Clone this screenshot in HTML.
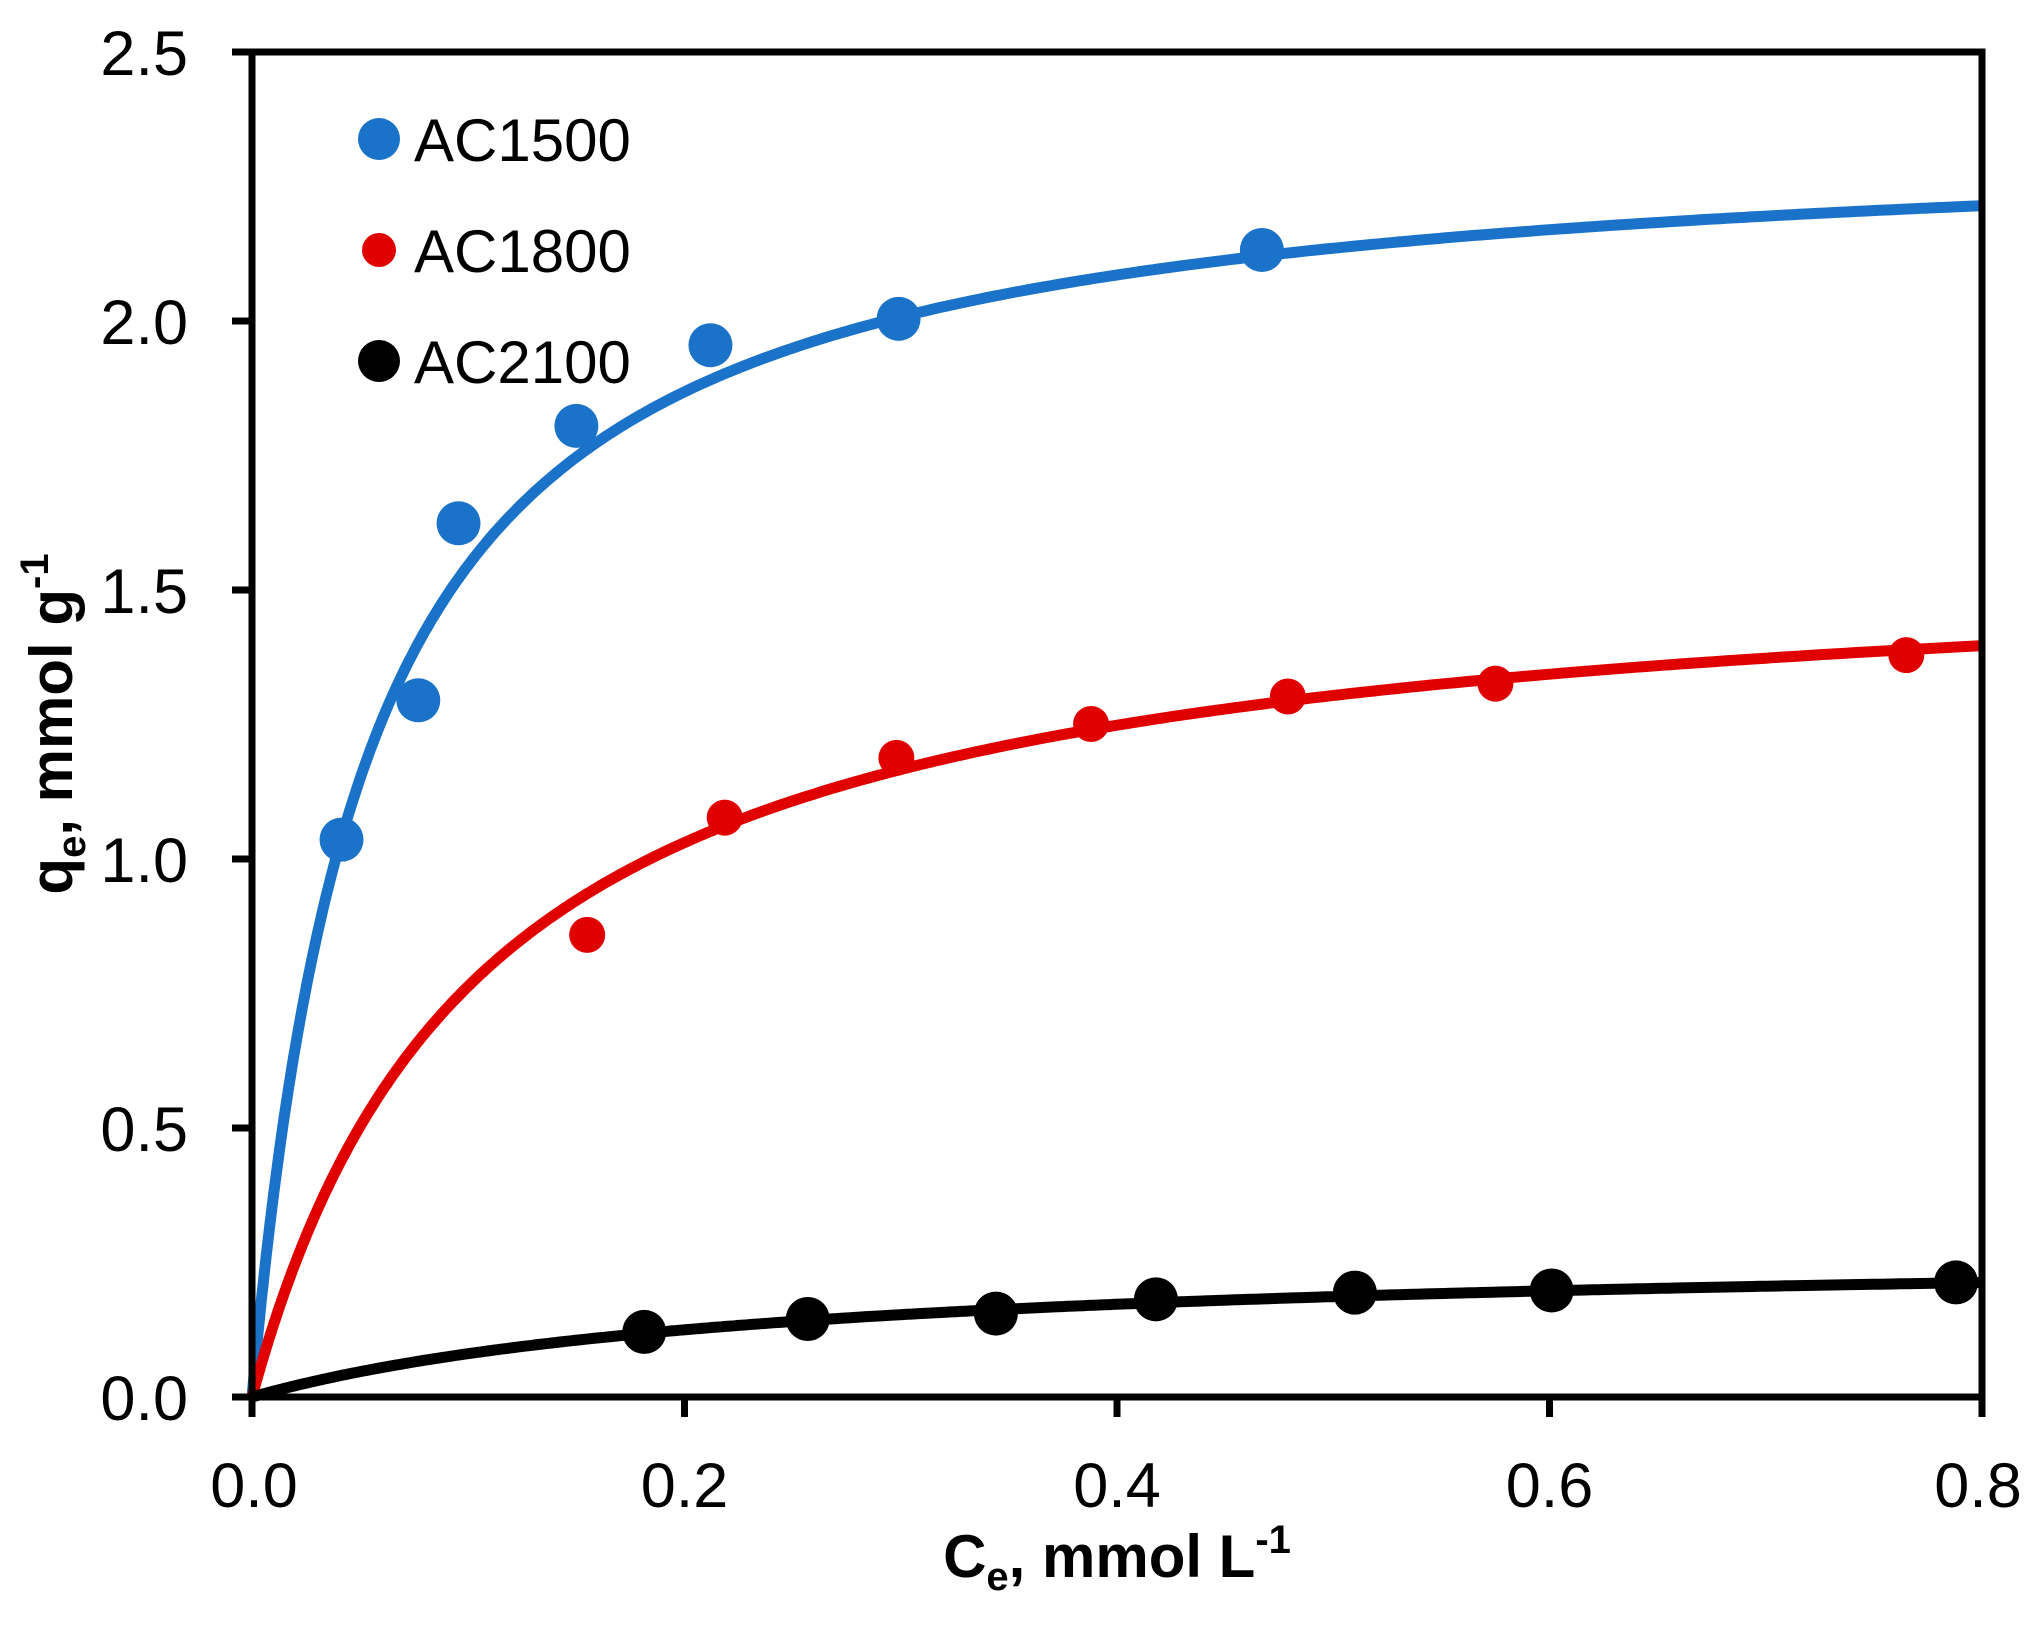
<!DOCTYPE html>
<html><head><meta charset="utf-8"><style>
html,body{margin:0;padding:0;background:#fff;}
svg{display:block;font-family:"Liberation Sans",sans-serif;}
</style></head><body>
<svg id="s" width="2040" height="1644" viewBox="0 0 2040 1644" xmlns="http://www.w3.org/2000/svg">
<rect width="2040" height="1644" fill="#fff"/>
<g id="curves" fill="none" stroke-width="11" stroke-linejoin="round"></g>
<g id="pts"></g>
<rect x="252" y="52" width="1730" height="1345" fill="none" stroke="#000" stroke-width="7"/>
<g stroke="#000" stroke-width="7">
<line x1="232" y1="1397" x2="252" y2="1397"/>
<line x1="232" y1="1128" x2="252" y2="1128"/>
<line x1="232" y1="859" x2="252" y2="859"/>
<line x1="232" y1="590" x2="252" y2="590"/>
<line x1="232" y1="321" x2="252" y2="321"/>
<line x1="232" y1="52" x2="252" y2="52"/>
<line x1="252" y1="1397" x2="252" y2="1417"/>
<line x1="684.5" y1="1397" x2="684.5" y2="1417"/>
<line x1="1117" y1="1397" x2="1117" y2="1417"/>
<line x1="1549.5" y1="1397" x2="1549.5" y2="1417"/>
<line x1="1982" y1="1397" x2="1982" y2="1417"/>
</g>
<g font-size="63" text-anchor="end" fill="#000">
<text x="188" y="1420">0.0</text>
<text x="188" y="1151">0.5</text>
<text x="188" y="882">1.0</text>
<text x="188" y="613">1.5</text>
<text x="188" y="344">2.0</text>
<text x="188" y="75">2.5</text>
</g>
<g font-size="63" text-anchor="middle" fill="#000">
<text x="254" y="1507">0.0</text>
<text x="684.5" y="1507">0.2</text>
<text x="1117" y="1507">0.4</text>
<text x="1549.5" y="1507">0.6</text>
<text x="1978" y="1507">0.8</text>
</g>
<text x="1117" y="1577" font-size="60" font-weight="bold" text-anchor="middle">C<tspan font-size="40" dy="13">e</tspan><tspan dy="-13">, mmol L</tspan><tspan font-size="40" dy="-24">-1</tspan></text>
<text transform="translate(72,724) rotate(-90)" font-size="60" font-weight="bold" text-anchor="middle">q<tspan font-size="40" dy="13">e</tspan><tspan dy="-13">, mmol g</tspan><tspan font-size="40" dy="-24">-1</tspan></text>
<circle cx="379" cy="139" r="21" fill="#1a73c8"/>
<circle cx="379" cy="250" r="17" fill="#e00000"/>
<circle cx="379" cy="361" r="21" fill="#000"/>
<g font-size="60" fill="#000">
<text x="414" y="161">AC1500</text>
<text x="414" y="272">AC1800</text>
<text x="414" y="383">AC2100</text>
</g>
</svg>
<script>
var X=function(c){return 252+c/0.8*1730},Y=function(q){return 1397-q*538};
var series=[
 {col:"#1a73c8",qm:2.36,K:19,r:22,p:[[0.0414,1.036],[0.0769,1.295],[0.0955,1.624],[0.150,1.805],[0.212,1.955],[0.299,2.004],[0.467,2.132]]},
 {col:"#e00000",qm:1.584,K:9.31,r:18,p:[[0.155,0.859],[0.2186,1.077],[0.298,1.188],[0.388,1.251],[0.479,1.302],[0.575,1.326],[0.765,1.379]]},
 {col:"#000",qm:0.278,K:4.08,r:22,p:[[0.1814,0.121],[0.257,0.145],[0.344,0.155],[0.418,0.1815],[0.51,0.194],[0.601,0.198],[0.788,0.213]]}
];
var ns="http://www.w3.org/2000/svg",cg=document.getElementById("curves"),pg=document.getElementById("pts");
series.forEach(function(s){
 var d="";
 for(var i=0;i<=400;i++){var c=0.8*Math.pow(i/400,1.6);var q=s.qm*s.K*c/(1+s.K*c);d+=(i?"L":"M")+X(c).toFixed(1)+","+Y(q).toFixed(1);}
 var p=document.createElementNS(ns,"path");p.setAttribute("d",d);p.setAttribute("stroke",s.col);cg.appendChild(p);
 s.p.forEach(function(pt){var c=document.createElementNS(ns,"circle");c.setAttribute("cx",X(pt[0]));c.setAttribute("cy",Y(pt[1]));c.setAttribute("r",s.r);c.setAttribute("fill",s.col);pg.appendChild(c);});
});
</script>
</body></html>
